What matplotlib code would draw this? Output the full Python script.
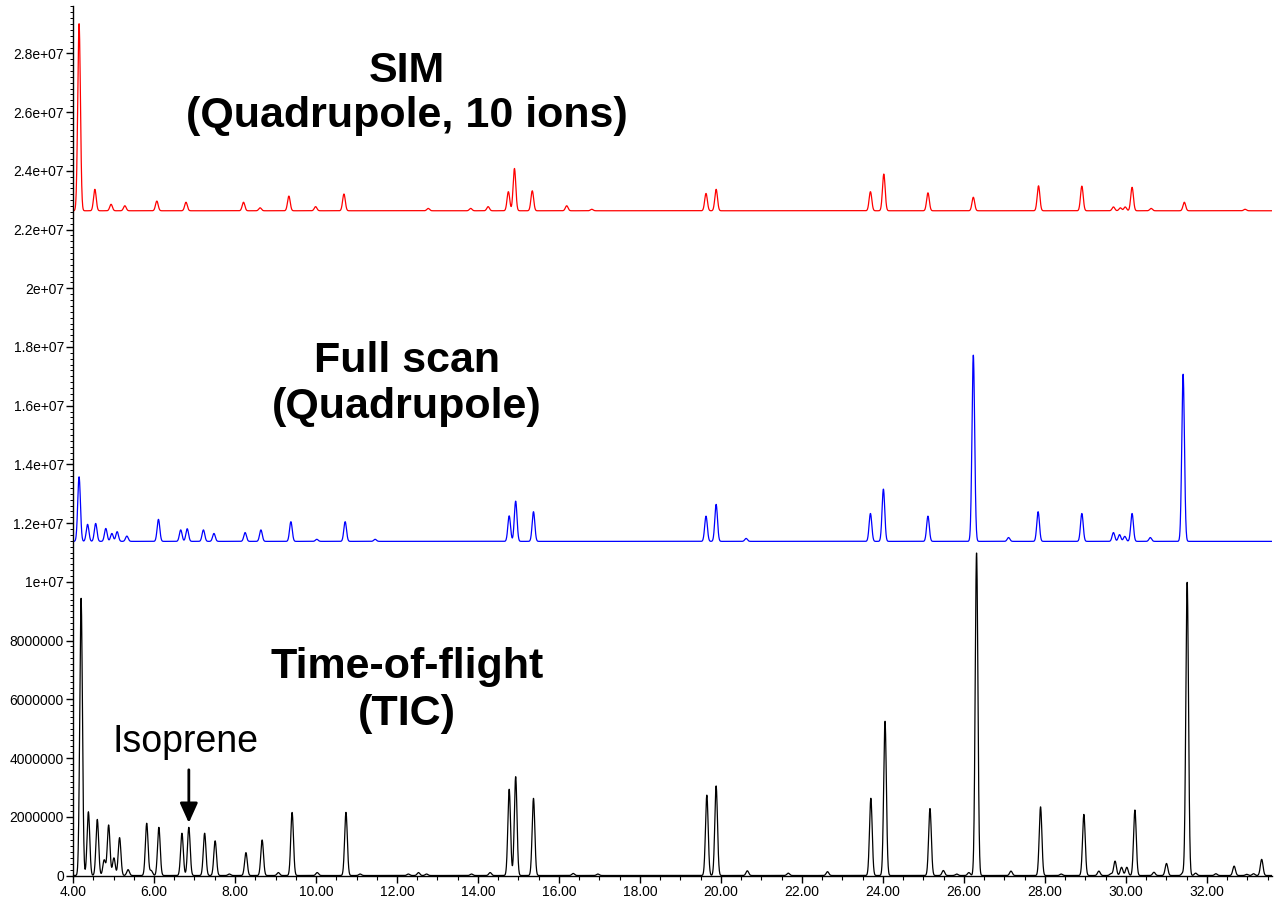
import numpy as np
import matplotlib
matplotlib.use("Agg")
import matplotlib.pyplot as plt
from matplotlib.ticker import MultipleLocator, FixedLocator, FixedFormatter

# ---------------- data ----------------
# Time-of-flight TIC peaks: retention time (min), height (counts)
tic_rt = [4.20, 4.38, 4.60, 4.77, 4.88, 5.01, 5.15, 5.36, 5.82, 5.93, 6.12,
          6.69, 6.86, 7.25, 7.51, 7.86, 8.27, 8.67, 9.07, 9.41, 10.03, 10.74, 11.09,
          12.28, 12.53, 12.73, 13.84, 14.30, 14.77, 14.93, 15.37, 16.35, 16.96,
          19.65, 19.88, 20.65, 21.66, 22.63, 23.70, 24.05, 25.16, 25.49, 25.82,
          26.12, 26.31, 27.16, 27.89, 28.40, 28.96, 29.33, 29.63, 29.73, 29.89,
          30.02, 30.22, 30.69, 31.00, 31.40, 31.51, 31.72, 32.22, 32.67, 32.98,
          33.15, 33.35]
tic_h = [9.44e6, 2.17e6, 1.91e6, 0.53e6, 1.72e6, 0.60e6, 1.29e6, 0.20e6, 1.78e6,
         0.17e6, 1.64e6, 1.44e6, 1.64e6, 1.44e6, 1.18e6, 0.05e6, 0.78e6, 1.21e6, 0.10e6,
         2.15e6, 0.10e6, 2.15e6, 0.05e6, 0.05e6, 0.10e6, 0.05e6, 0.05e6, 0.10e6, 2.94e6,
         3.37e6, 2.63e6, 0.07e6, 0.05e6, 2.74e6, 3.05e6, 0.16e6, 0.08e6, 0.13e6, 2.63e6,
         5.26e6, 2.28e6, 0.17e6, 0.05e6, 0.10e6, 11.0e6, 0.15e6, 2.34e6, 0.05e6, 2.08e6,
         0.15e6, 0.06e6, 0.49e6, 0.28e6, 0.28e6, 2.23e6, 0.11e6, 0.41e6, 0.08e6, 10.0e6,
         0.08e6, 0.06e6, 0.32e6, 0.04e6, 0.06e6, 0.55e6]
tic_base = 0.0

# Full scan (quadrupole) peaks: retention time, height above baseline
fs_rt = [4.15, 4.36, 4.56, 4.81, 4.96, 5.09, 5.33, 6.11, 6.66, 6.82, 7.22, 7.48, 8.25,
         8.64, 9.38, 10.02, 10.72, 11.46, 14.77, 14.93, 15.37, 19.63, 19.88, 20.62,
         23.69, 24.01, 25.11, 26.23, 27.10, 27.83, 28.91, 29.69, 29.84, 29.97, 30.15,
         30.60, 31.41]
fs_h = [2.20e6, 0.58e6, 0.61e6, 0.44e6, 0.27e6, 0.33e6, 0.18e6, 0.75e6, 0.39e6, 0.43e6,
        0.39e6, 0.27e6, 0.30e6, 0.39e6, 0.67e6, 0.07e6, 0.67e6, 0.07e6, 0.87e6, 1.37e6,
        1.01e6, 0.86e6, 1.26e6, 0.10e6, 0.95e6, 1.78e6, 0.86e6, 6.35e6, 0.13e6, 1.01e6,
        0.95e6, 0.30e6, 0.23e6, 0.17e6, 0.95e6, 0.13e6, 5.70e6]
fs_base = 11.38e6

# SIM (quadrupole, 10 ions) peaks: retention time, height above baseline
sim_rt = [4.15, 4.54, 4.94, 5.28, 6.07, 6.79, 8.21, 8.62, 9.33, 9.99, 10.69, 12.77,
          13.82, 14.25, 14.75, 14.90, 15.34, 16.19, 16.81, 19.63, 19.88, 23.69, 24.02,
          25.11, 26.23, 27.84, 28.91, 29.69, 29.86, 29.98, 30.15, 30.62, 31.44, 32.94]
sim_h = [6.38e6, 0.73e6, 0.22e6, 0.17e6, 0.33e6, 0.29e6, 0.29e6, 0.10e6, 0.50e6, 0.14e6,
         0.57e6, 0.08e6, 0.08e6, 0.14e6, 0.65e6, 1.44e6, 0.68e6, 0.17e6, 0.05e6, 0.59e6,
         0.73e6, 0.65e6, 1.25e6, 0.61e6, 0.46e6, 0.85e6, 0.84e6, 0.13e6, 0.10e6, 0.13e6,
         0.80e6, 0.08e6, 0.29e6, 0.05e6]
sim_base = 22.64e6

y_ticks = [0, 2e6, 4e6, 6e6, 8e6, 1.0e7, 1.2e7, 1.4e7, 1.6e7, 1.8e7, 2.0e7, 2.2e7,
           2.4e7, 2.6e7, 2.8e7]
y_tick_labels = ["0", "2000000", "4000000", "6000000", "8000000", "1e+07", "1.2e+07",
                 "1.4e+07", "1.6e+07", "1.8e+07", "2e+07", "2.2e+07", "2.4e+07",
                 "2.6e+07", "2.8e+07"]
x_ticks = [4, 6, 8, 10, 12, 14, 16, 18, 20, 22, 24, 26, 28, 30, 32]
x_tick_labels = ["4.00", "6.00", "8.00", "10.00", "12.00", "14.00", "16.00", "18.00",
                 "20.00", "22.00", "24.00", "26.00", "28.00", "30.00", "32.00"]

isoprene_rt = 6.86

# ---------------- drawing ----------------
W, H = 1276, 897
fig = plt.figure(figsize=(W / 100, H / 100), dpi=100)
ax = fig.add_axes([73 / W, (H - 875.5) / H, 1198.8 / W, 869.1 / H])

t = np.arange(4.0, 33.6, 0.004)
SIGMA = 0.033


def trace(base, rts, hs):
    y = np.full_like(t, base)
    for r, h in zip(rts, hs):
        y += h * np.exp(-0.5 * ((t - r) / SIGMA) ** 2)
    return y


ax.plot(t, trace(sim_base, sim_rt, sim_h), color="#ff0000", lw=0.9)
ax.plot(t, trace(fs_base, fs_rt, fs_h), color="#0000ff", lw=0.9)
ax.plot(t, trace(tic_base, tic_rt, tic_h), color="black", lw=0.9)

ax.set_xlim(4.0, 33.6)
ax.set_ylim(0, 2.96e7)

for s in ("top", "right"):
    ax.spines[s].set_visible(False)
for s in ("left", "bottom"):
    ax.spines[s].set_linewidth(1.0)

ax.yaxis.set_major_locator(FixedLocator(y_ticks))
ax.yaxis.set_major_formatter(FixedFormatter(y_tick_labels))
ax.yaxis.set_minor_locator(MultipleLocator(2e5))
ax.xaxis.set_major_locator(FixedLocator(x_ticks))
ax.xaxis.set_major_formatter(FixedFormatter(x_tick_labels))
ax.xaxis.set_minor_locator(MultipleLocator(0.5))

ax.tick_params(axis="both", which="major", direction="out", length=5, width=1,
               labelsize=10, pad=1.5)
ax.tick_params(axis="y", which="minor", direction="out", length=2.5, width=0.7)
ax.tick_params(axis="x", which="minor", direction="out", length=3, width=0.8)
for lab in ax.get_xticklabels() + ax.get_yticklabels():
    lab.set_family("Liberation Sans")

title_kw = dict(ha="center", va="baseline", fontsize=31, fontweight="bold",
                family="Liberation Sans")
cx = 407 / W
fig.text(cx, 1 - 82 / H, "SIM", **title_kw)
fig.text(cx, 1 - 127 / H, "(Quadrupole, 10 ions)", **title_kw)
fig.text(cx, 1 - 372 / H, "Full scan", **title_kw)
fig.text(cx, 1 - 418 / H, "(Quadrupole)", **title_kw)
fig.text(cx, 1 - 678 / H, "Time-of-flight", **title_kw)
fig.text(cx, 1 - 725 / H, "(TIC)", **title_kw)

fig.text(185 / W, 1 - 751.5 / H, "Isoprene", ha="center", va="baseline",
         fontsize=27, family="Liberation Sans")

ax.annotate("", xy=(isoprene_rt, 1.79e6), xytext=(isoprene_rt, 3.6e6),
            arrowprops=dict(arrowstyle="-|>,head_length=0.4,head_width=0.18",
                            lw=2, color="black", mutation_scale=30,
                            shrinkA=0, shrinkB=0))

fig.savefig("out.png", dpi=100)
